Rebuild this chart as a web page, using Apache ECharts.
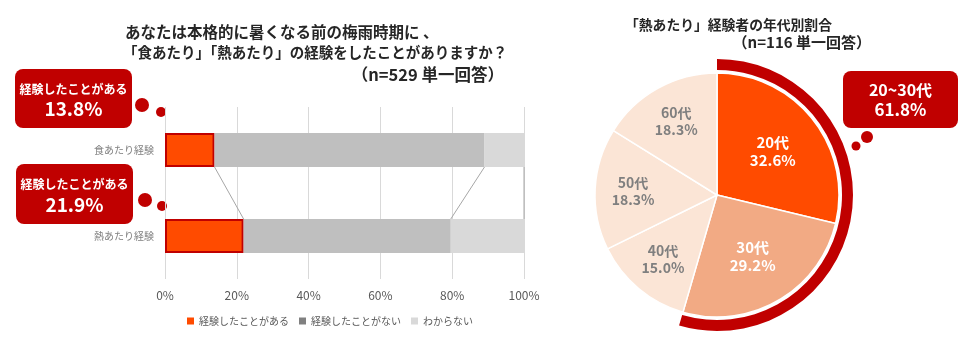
<!DOCTYPE html>
<html>
<head>
<meta charset="utf-8">
<script src="https://cdn.jsdelivr.net/npm/echarts@6/dist/echarts.min.js"></script>
<style>html,body{margin:0;padding:0;background:#fff}#c{width:967px;height:347px}</style>
</head>
<body>
<div id="c"></div>
<script>
// ---- data ----
const barCategories = ['食あたり経験', '熱あたり経験'];
const seriesNames = ['経験したことがある', '経験したことがない', 'わからない'];
const hadExperience = [13.8, 21.9];
const noExperience = [75.2, 57.7];
const unknown = [11.0, 20.4];
const xTicks = [0, 20, 40, 60, 80, 100];

const ageGroups = ['20代', '30代', '40代', '50代', '60代'];
const ageShares = [32.6, 29.2, 15.0, 18.3, 18.3];

const titleLines = ['あなたは本格的に暑くなる前の梅雨時期に 、', '「食あたり」「熱あたり」の経験をしたことがありますか？', '（n=529 単一回答）'];
const pieTitleLines = ['「熱あたり」経験者の年代別割合', '（n=116 単一回答）'];
const calloutLabel = '経験したことがある';
const pieCalloutLabel = '20~30代';

// ---- derived ----
const FONT = '"Noto Sans CJK JP", "Noto Sans", sans-serif';
const cum = (i) => [hadExperience[i], hadExperience[i] + noExperience[i], hadExperience[i] + noExperience[i] + unknown[i]];
const cTop = cum(0), cBot = cum(1);
const connectorData = cTop.map((v, i) => [v, cBot[i], 0]);
const youngShare = ageShares[0] + ageShares[1];
const restShare = ageShares.slice(2).reduce((a, b) => a + b, 0);
const pieColors = ['#ff4b00', '#f2aa84', '#fbe5d6', '#fbe5d6', '#fbe5d6'];
const BAR_W = 34;

const chart = echarts.init(document.getElementById('c'));

function callout(x, y, w, h, line1, line2, bubbles, s1, s2) {
  const els = [
    { type: 'rect', shape: { x: x, y: y, width: w, height: h, r: 8 }, style: { fill: '#c00000' } },
    { type: 'text', style: { text: line1, x: x + w / 2, y: y + h * 0.34, align: 'center', verticalAlign: 'middle', font: 'bold ' + s1 + 'px ' + FONT, fill: '#fff' } },
    { type: 'text', style: { text: line2, x: x + w / 2, y: y + h * 0.68, align: 'center', verticalAlign: 'middle', font: 'bold ' + s2 + 'px ' + FONT, fill: '#fff' } }
  ];
  bubbles.forEach(b => els.push({ type: 'circle', shape: { cx: b[0], cy: b[1], r: b[2] }, style: { fill: '#c00000' } }));
  return els;
}

const labelFmt = p => p.name + '\n' + ageShares[p.dataIndex].toFixed(1) + '%';

const option = {
  animation: false,
  textStyle: { fontFamily: FONT },
  grid: { left: 165, width: 359, top: 107, height: 172 },
  legend: {
    left: 182, top: 311, itemWidth: 7, itemHeight: 7, itemGap: 10, icon: 'rect',
    textStyle: { color: '#595959', fontSize: 10, fontFamily: FONT },
    data: [
      { name: seriesNames[0], itemStyle: { color: '#ff4b00', borderWidth: 0 } },
      { name: seriesNames[1], itemStyle: { color: '#808080' } },
      { name: seriesNames[2], itemStyle: { color: '#d9d9d9' } }
    ]
  },
  xAxis: {
    type: 'value', min: xTicks[0], max: xTicks[xTicks.length - 1], interval: xTicks[1] - xTicks[0],
    axisLine: { show: false }, axisTick: { show: false },
    splitLine: { lineStyle: { color: '#d9d9d9', width: 1 } },
    axisLabel: { formatter: '{value}%', color: '#595959', fontSize: 12, margin: 10, fontFamily: FONT }
  },
  yAxis: {
    type: 'category', inverse: true, data: barCategories,
    axisLine: { show: false }, axisTick: { show: false },
    axisLabel: { color: '#7f7f7f', fontSize: 10, margin: 11, fontFamily: FONT }
  },
  series: [
    { type: 'bar', name: seriesNames[0], stack: 's', barWidth: BAR_W, data: hadExperience,
      itemStyle: { color: '#ff4b00', borderColor: '#c00000', borderWidth: 2 } },
    { type: 'bar', name: seriesNames[1], stack: 's', barWidth: BAR_W, data: noExperience,
      itemStyle: { color: '#bfbfbf' } },
    { type: 'bar', name: seriesNames[2], stack: 's', barWidth: BAR_W, data: unknown,
      itemStyle: { color: '#d9d9d9' } },
    { type: 'custom', name: 'connector', data: connectorData, encode: { x: [0, 1], y: 2 }, silent: true, z: 1,
      renderItem: function (params, api) {
        const a = api.coord([api.value(0), 0]);
        const b = api.coord([api.value(1), 1]);
        return { type: 'line', shape: { x1: a[0], y1: a[1] + BAR_W / 2, x2: b[0], y2: b[1] - BAR_W / 2 },
          style: { stroke: '#a6a6a6', lineWidth: 1 } };
      } },
    { type: 'pie', name: 'ring', center: [717, 195], radius: [125, 136], startAngle: 90, silent: true,
      label: { show: false }, labelLine: { show: false },
      data: [ { value: youngShare, itemStyle: { color: '#c00000' } }, { value: restShare, itemStyle: { color: 'rgba(0,0,0,0)' } } ] },
    { type: 'pie', name: 'age', center: [717, 195], radius: [0, 122], startAngle: 90, silent: true,
      itemStyle: { borderColor: '#fff', borderWidth: 1.5 },
      label: { show: false }, labelLine: { show: false },
      data: ageGroups.map((g, i) => ({ name: g, value: ageShares[i], itemStyle: { color: pieColors[i] } })) },
    { type: 'pie', name: 'ageLabelsA', center: [717, 195], radius: [0, 136], startAngle: 90, silent: true,
      itemStyle: { color: 'rgba(0,0,0,0)' }, labelLine: { show: false },
      data: ageGroups.map((g, i) => ({ name: g, value: ageShares[i],
        label: { show: i < 2, position: 'inside', formatter: labelFmt, color: '#fff', fontWeight: 'bold', fontSize: 15, lineHeight: 18, fontFamily: FONT } })) },
    { type: 'pie', name: 'ageLabelsB', center: [717, 195], radius: [0, 162], startAngle: 90, silent: true,
      itemStyle: { color: 'rgba(0,0,0,0)' }, labelLine: { show: false },
      data: ageGroups.map((g, i) => ({ name: g, value: ageShares[i],
        label: { show: i >= 2, position: 'inside', formatter: labelFmt, color: '#7f7f7f', fontWeight: 'bold', fontSize: 14, lineHeight: 17, fontFamily: FONT } })) }
  ],
  graphic: [
    { type: 'text', style: { text: titleLines[0], x: 125, y: 32, verticalAlign: 'middle', font: 'bold 15.5px ' + FONT, fill: '#262626' } },
    { type: 'text', style: { text: titleLines[1], x: 123, y: 52, verticalAlign: 'middle', font: 'bold 14.5px ' + FONT, fill: '#262626' } },
    { type: 'text', style: { text: titleLines[2], x: 504, y: 75, align: 'right', verticalAlign: 'middle', font: 'bold 16.5px ' + FONT, fill: '#262626' } },
    { type: 'text', style: { text: pieTitleLines[0], x: 625, y: 25, verticalAlign: 'middle', font: 'bold 13.8px ' + FONT, fill: '#262626' } },
    { type: 'text', style: { text: pieTitleLines[1], x: 871, y: 42, align: 'right', verticalAlign: 'middle', font: 'bold 15px ' + FONT, fill: '#262626' } }
  ]
    .concat(callout(15, 69, 117, 59, calloutLabel, hadExperience[0].toFixed(1) + '%', [[142, 105, 7], [161, 112, 5]], 12, 19))
    .concat(callout(16, 164, 117, 60, calloutLabel, hadExperience[1].toFixed(1) + '%', [[145, 200, 7], [162, 206, 5]], 12, 19))
    .concat(callout(843, 71, 115, 57, pieCalloutLabel, youngShare.toFixed(1) + '%', [[867, 137, 6], [856, 146, 4.5]], 16, 17))
};
chart.setOption(option);
</script>
</body>
</html>
